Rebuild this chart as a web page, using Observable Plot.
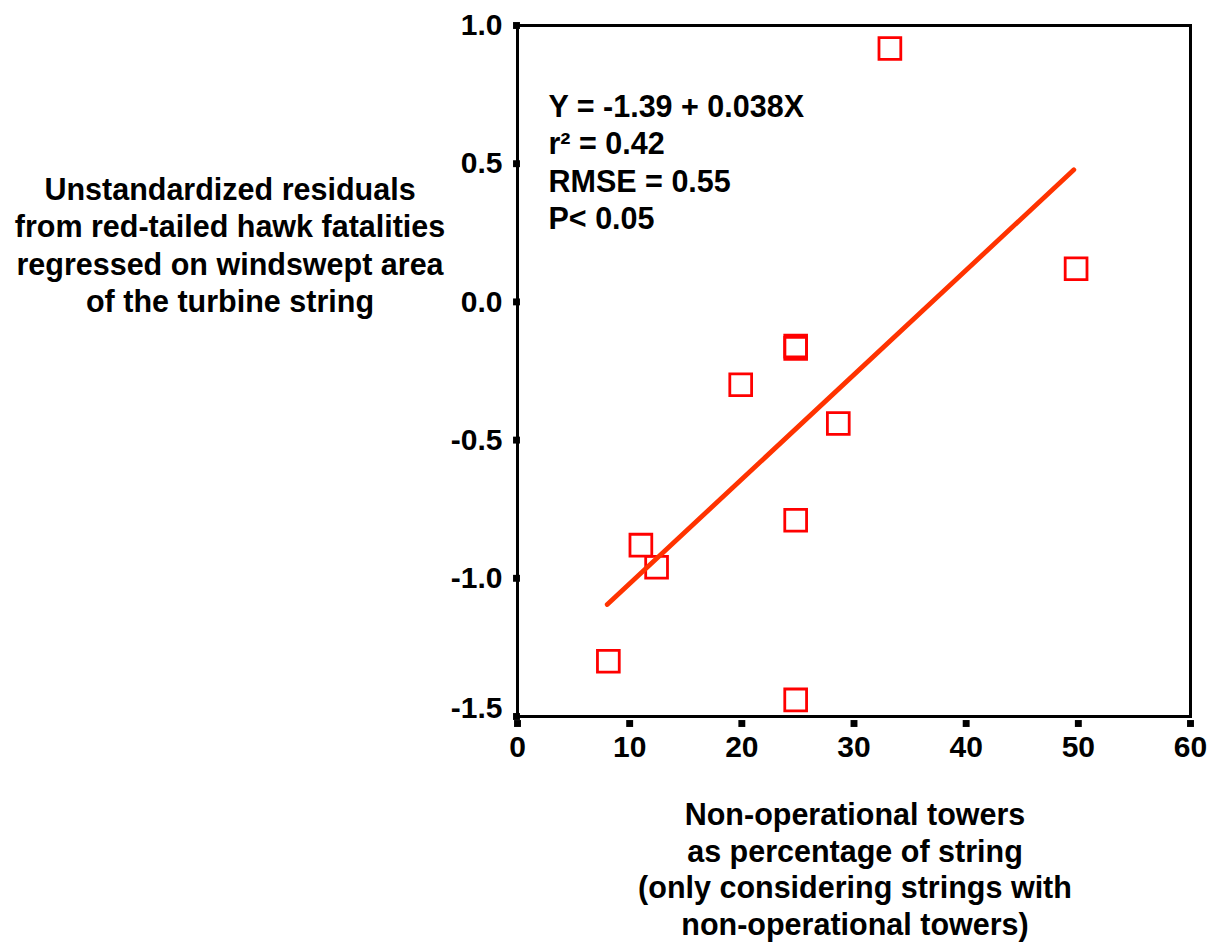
<!DOCTYPE html>
<html>
<head>
<meta charset="utf-8">
<script src="https://cdn.jsdelivr.net/npm/d3@7"></script>
<script src="https://cdn.jsdelivr.net/npm/@observablehq/plot@0.6"></script>
<style>
  html, body { margin: 0; padding: 0; background: #fff; }
  #wrap { position: relative; width: 1222px; height: 945px; font-family: "Liberation Sans", Arial, sans-serif; font-weight: bold; color: #000; }
  .lab { position: absolute; text-align: center; font-size: 30.5px; white-space: nowrap; }
</style>
</head>
<body>
<div id="wrap">
  <div id="chart"></div>
  <div class="lab" id="ylab" style="left:0px; width:460px; top:171px; line-height:37.3px;">Unstandardized residuals<br>from red-tailed hawk fatalities<br>regressed on windswept area<br>of the turbine string</div>
  <div class="lab" id="xlab" style="left:605px; width:500px; top:796px; line-height:36.6px;">Non-operational towers<br>as percentage of string<br>(only considering strings with<br>non-operational towers)</div>
</div>
<script>
const pctNonOperational = [8.1, 11.0, 12.4, 19.9, 24.8, 24.8, 24.8, 24.8, 28.6, 33.2, 49.8];
const residuals =        [-1.30, -0.88, -0.96, -0.30, -0.160, -0.168, -0.79, -1.44, -0.44, 0.917, 0.12];

const fitX = [8.0, 49.6];
const fitY = [-1.095, 0.478];

const xTicks = [0, 10, 20, 30, 40, 50, 60];
const xTickLabels = ["0", "10", "20", "30", "40", "50", "60"];
const yTicks = [1.0, 0.5, 0.0, -0.5, -1.0, -1.5];
const yTickLabels = ["1.0", "0.5", "0.0", "-0.5", "-1.0", "-1.5"];

const statsText = ["Y = -1.39 + 0.038X", "r² = 0.42", "RMSE = 0.55", "P< 0.05"];

const points = pctNonOperational.map((x, i) => ({x, y: residuals[i]}));
const fit = fitX.map((x, i) => ({x, y: fitY[i]}));
const yTickData = yTicks.map((v, i) => ({v, label: yTickLabels[i]}));
const xTickData = xTicks.map((v, i) => ({v, label: xTickLabels[i]}));

const chart = Plot.plot({
  width: 1222,
  height: 945,
  marginLeft: 517,
  marginRight: 32,
  marginTop: 25,
  marginBottom: 229,
  style: {background: "#fff", fontFamily: "Liberation Sans, Arial, sans-serif", fontWeight: "bold", overflow: "visible"},
  x: {domain: [0, 60], axis: null},
  y: {domain: [-1.5, 1.0], axis: null},
  marks: [
    Plot.dot(points, {x: "x", y: "y", symbol: "square", r: 12.3, stroke: "#ff0000", strokeWidth: 2.8, fill: "none"}),
    Plot.line(fit, {x: "x", y: "y", stroke: "#ff3300", strokeWidth: 4.8}),
    Plot.frame({stroke: "#000", strokeWidth: 3}),
    Plot.dot(xTickData, {x: "v", frameAnchor: "bottom", dy: 7, symbol: "square", r: 3.9, fill: "#000"}),
    Plot.dot(yTickData, {y: "v", frameAnchor: "left", dx: -1, symbol: "square", r: 3.9, fill: "#000"}),
    Plot.text(xTickData, {x: "v", text: "label", frameAnchor: "bottom", dy: 31, fontSize: 30, fontWeight: "bold", fill: "#000", lineAnchor: "middle"}),
    Plot.text(yTickData.filter(d => d.v > -1.5), {y: "v", text: "label", frameAnchor: "left", dx: -15, textAnchor: "end", fontSize: 30, fontWeight: "bold", fill: "#000", lineAnchor: "middle"}),
    Plot.text(yTickData.filter(d => d.v === -1.5), {y: "v", text: "label", frameAnchor: "left", dx: -15, dy: -8, textAnchor: "end", fontSize: 30, fontWeight: "bold", fill: "#000", lineAnchor: "middle"}),
    Plot.text([statsText.join("\n")], {frameAnchor: "top-left", dx: 31, dy: 65, textAnchor: "start", lineAnchor: "top", lineHeight: 1.225, fontSize: 30.5, fontWeight: "bold", fill: "#000"})
  ]
});
document.getElementById("chart").appendChild(chart);
</script>
</body>
</html>
